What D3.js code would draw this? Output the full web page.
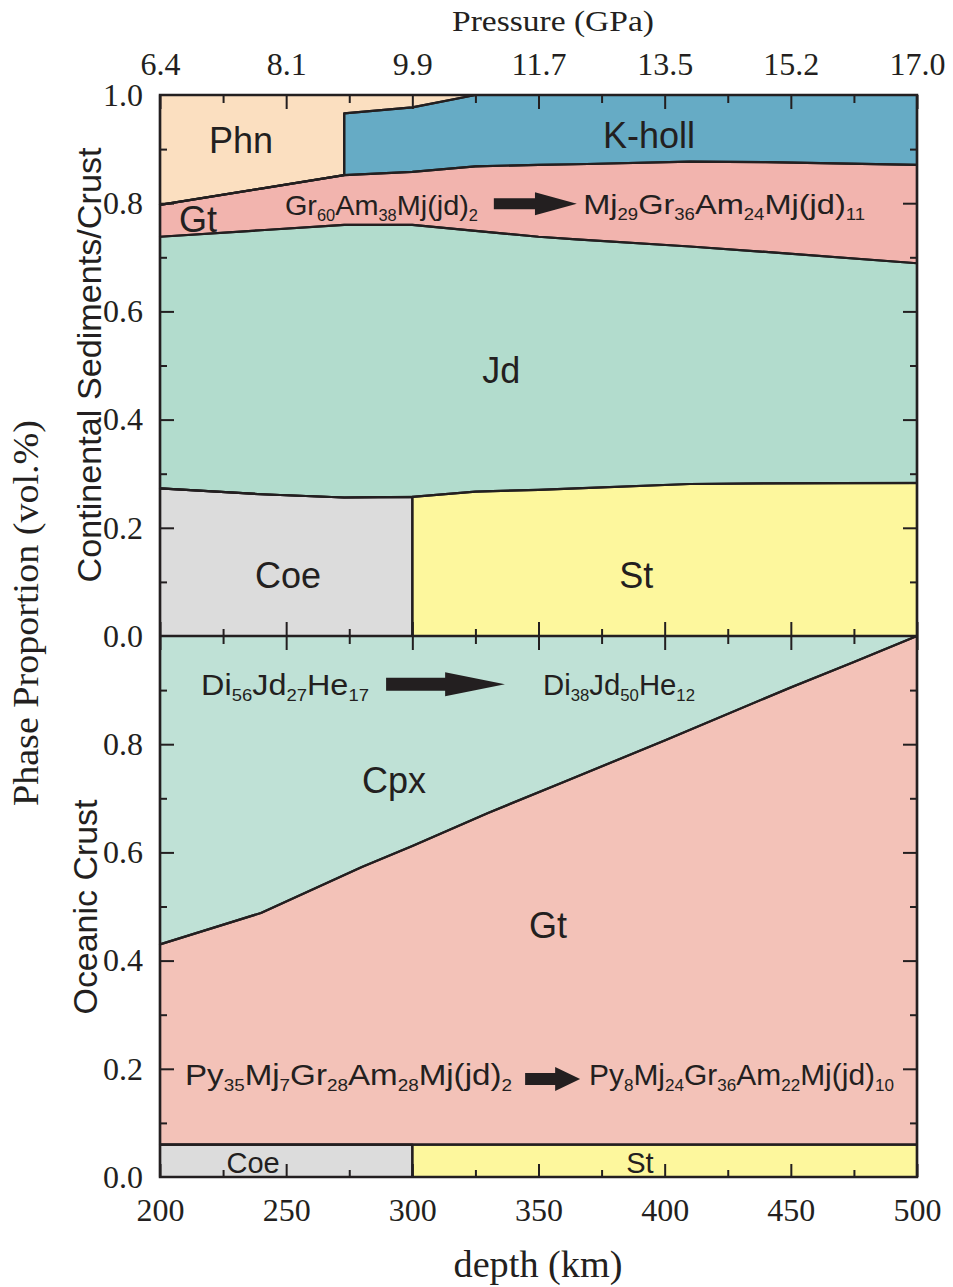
<!DOCTYPE html>
<html><head><meta charset="utf-8">
<script src="https://cdn.jsdelivr.net/npm/d3@7"></script>
<style>
html,body{margin:0;padding:0;background:#fff;}
svg{display:block;}
</style></head>
<body>
<svg id="chart" width="953" height="1287"></svg>
<script>
// ---- Continental sediments / crust panel (vol. fraction of each phase) ----
// repeated depths mark abrupt phase changes (K-holl appearance, Coe -> St)
const depthCont = [200, 240, 273, 273, 300, 300, 325, 350, 365, 410, 440, 500];
const coeCont   = [0.273, 0.262, 0.256, 0.256, 0.257, 0, 0, 0, 0, 0, 0, 0];
const stCont    = [0, 0, 0, 0, 0, 0.257, 0.267, 0.270, 0.273, 0.281, 0.282, 0.283];
const jdCont    = [0.465, 0.488, 0.504, 0.504, 0.503, 0.503, 0.482, 0.468, 0.460, 0.439, 0.428, 0.406];
const gtCont    = [0.059, 0.077, 0.092, 0.092, 0.098, 0.098, 0.119, 0.133, 0.139, 0.157, 0.166, 0.182];
const khollCont = [0, 0, 0, 0.114, 0.119, 0.119, 0.132, 0.129, 0.128, 0.123, 0.124, 0.129];
const phnCont   = [0.203, 0.173, 0.148, 0.034, 0.023, 0.023, 0, 0, 0, 0, 0, 0];

// ---- Oceanic crust panel ----
const depthOcean = [200, 240, 280, 300, 300, 330, 360, 400, 450, 475, 500];
const coeOcean   = [0.06, 0.06, 0.06, 0.06, 0, 0, 0, 0, 0, 0, 0];
const stOcean    = [0, 0, 0, 0, 0.06, 0.06, 0.06, 0.06, 0.06, 0.06, 0.06];
const gtOcean    = [0.370, 0.428, 0.513, 0.552, 0.552, 0.613, 0.670, 0.747, 0.845, 0.892, 0.940];
const cpxOcean   = [0.570, 0.512, 0.427, 0.388, 0.388, 0.327, 0.270, 0.193, 0.095, 0.048, 0];

// ---- axis ticks ----
const depthTicks = [200, 250, 300, 350, 400, 450, 500];
const pressureLabels = ["6.4", "8.1", "9.9", "11.7", "13.5", "15.2", "17.0"];
const contTickLabels = [0, 0.2, 0.4, 0.6, 0.8, 1.0];
const oceanTickLabels = [0, 0.2, 0.4, 0.6, 0.8];

const phaseColor = {
  Coe: "#dcdcdc", St: "#fdf79d", Jd: "#b2dccd", Gt: "#f2b4ae",
  Kholl: "#66abc5", Phn: "#fbdfc0", GtO: "#f3c2b8", Cpx: "#bfe1d6"
};

const svg = d3.select("#chart");
const L = 160, R = 917, T = 95, M = 636, B = 1177;
const x = d3.scaleLinear().domain([200, 500]).range([L, R]);
const yC = d3.scaleLinear().domain([0, 1]).range([M, T]);
const yO = d3.scaleLinear().domain([0, 1]).range([B, M]);

const ink = "#231f20";
const serif = "'Liberation Serif','Times New Roman',serif";
const sans = "'Liberation Sans',Arial,sans-serif";

function drawPanel(depths, series, keys, colorKeys, y) {
  const rows = depths.map((d, i) => {
    const r = { depth: d };
    keys.forEach((k, j) => r[k] = series[j][i]);
    return r;
  });
  const stacked = d3.stack().keys(keys)(rows);
  const area = d3.area()
    .x(d => x(d.data.depth))
    .y0(d => y(d[0]))
    .y1(d => y(d[1]));
  const g = svg.append("g");
  g.selectAll("path.fill").data(stacked).join("path")
    .attr("class", "fill")
    .attr("d", area)
    .attr("fill", (d, i) => phaseColor[colorKeys[i]])
    .attr("stroke", (d, i) => phaseColor[colorKeys[i]])
    .attr("stroke-width", 0.6);
  g.selectAll("path.edge").data(stacked).join("path")
    .attr("class", "edge")
    .attr("d", area)
    .attr("fill", "none")
    .attr("stroke", ink)
    .attr("stroke-width", 2.2)
    .attr("stroke-linejoin", "round");
}

drawPanel(depthCont,
  [coeCont, stCont, jdCont, gtCont, khollCont, phnCont],
  ["Coe", "St", "Jd", "Gt", "Kholl", "Phn"],
  ["Coe", "St", "Jd", "Gt", "Kholl", "Phn"], yC);

drawPanel(depthOcean,
  [coeOcean, stOcean, gtOcean, cpxOcean],
  ["Coe", "St", "Gt", "Cpx"],
  ["Coe", "St", "GtO", "Cpx"], yO);

// ---- inward ticks ----
const xMajor = d3.range(200, 501, 50);
const xMinor = d3.range(225, 500, 50);
const yMajor = [0.2, 0.4, 0.6, 0.8];
const yMinor = [0.1, 0.3, 0.5, 0.7, 0.9];

function ticks(axis, tx, ty) {
  svg.append("g").attr("transform", `translate(${tx},${ty})`)
    .call(axis.tickFormat(""))
    .call(g => g.select(".domain").remove())
    .call(g => g.selectAll("line").attr("stroke", ink).attr("stroke-width", 2));
}
// top edge
ticks(d3.axisBottom(x).tickValues(xMajor).tickSize(14), 0, T);
ticks(d3.axisBottom(x).tickValues(xMinor).tickSize(8), 0, T);
// panel divider: up into continental panel, down into oceanic panel
ticks(d3.axisTop(x).tickValues(xMajor).tickSize(14), 0, M);
ticks(d3.axisTop(x).tickValues(xMinor).tickSize(7), 0, M);
ticks(d3.axisBottom(x).tickValues(xMajor).tickSize(14), 0, M);
ticks(d3.axisBottom(x).tickValues(xMinor).tickSize(8), 0, M);
// bottom edge
ticks(d3.axisTop(x).tickValues(xMajor).tickSize(13), 0, B);
ticks(d3.axisTop(x).tickValues(xMinor).tickSize(7), 0, B);
// left and right edges of both panels
[yC, yO].forEach(y => {
  ticks(d3.axisRight(y).tickValues(yMajor).tickSize(14), L, 0);
  ticks(d3.axisRight(y).tickValues(yMinor).tickSize(7), L, 0);
  ticks(d3.axisLeft(y).tickValues(yMajor).tickSize(14), R, 0);
  ticks(d3.axisLeft(y).tickValues(yMinor).tickSize(7), R, 0);
});

// ---- frame ----
svg.append("rect").attr("x", L).attr("y", T).attr("width", R - L).attr("height", B - T)
  .attr("fill", "none").attr("stroke", ink).attr("stroke-width", 2.5);
svg.append("line").attr("x1", L).attr("x2", R).attr("y1", M).attr("y2", M)
  .attr("stroke", ink).attr("stroke-width", 2.5);

// ---- tick labels ----
function labels(axis, tx, ty) {
  svg.append("g").attr("transform", `translate(${tx},${ty})`)
    .call(axis.tickSize(0))
    .call(g => g.select(".domain").remove())
    .call(g => g.selectAll("text").attr("font-family", serif).attr("font-size", 32).attr("fill", ink));
}
labels(d3.axisTop(x).tickValues(depthTicks).tickFormat((d, i) => pressureLabels[i]).tickPadding(20), 0, T);
labels(d3.axisBottom(x).tickValues(depthTicks).tickFormat(d3.format("d")).tickPadding(21), 0, B);
labels(d3.axisLeft(yC).tickValues(contTickLabels).tickFormat(d3.format(".1f")).tickPadding(17), L, 0);
labels(d3.axisLeft(yO).tickValues(oceanTickLabels).tickFormat(d3.format(".1f")).tickPadding(17), L, 0);

// ---- axis titles ----
svg.append("text").attr("x", 553).attr("y", 31).attr("text-anchor", "middle")
  .attr("font-family", serif).attr("font-size", 30).attr("fill", ink)
  .attr("textLength", 202).attr("lengthAdjust", "spacingAndGlyphs")
  .text("Pressure (GPa)");
svg.append("text").attr("x", 538).attr("y", 1277).attr("text-anchor", "middle")
  .attr("font-family", serif).attr("font-size", 37).attr("fill", ink)
  .attr("textLength", 169).attr("lengthAdjust", "spacingAndGlyphs")
  .text("depth (km)");

function vTitle(text, cx, cy, size, font, len) {
  svg.append("text").attr("transform", `translate(${cx},${cy}) rotate(-90)`)
    .attr("text-anchor", "middle").attr("font-family", font).attr("font-size", size)
    .attr("fill", ink).attr("textLength", len).attr("lengthAdjust", "spacingAndGlyphs")
    .text(text);
}
vTitle("Phase Proportion (vol.%)", 38, 613, 36, serif, 386);
vTitle("Continental Sediments/Crust", 101, 365, 33, sans, 435);
vTitle("Oceanic Crust", 97, 907, 33, sans, 215);

// ---- phase names ----
const contNames = [
  ["Phn", 232.1, 0.893], ["K-holl", 393.8, 0.902], ["Gt", 215.1, 0.747],
  ["Jd", 335.2, 0.468], ["Coe", 250.7, 0.0887], ["St", 388.7, 0.0887]
];
const oceanNames = [
  ["Cpx", 292.7, 0.710], ["Gt", 353.8, 0.442]
];
const oceanStripNames = [["Coe", 236.9, 0.0074], ["St", 390.2, 0.0074]];

function names(list, y, size) {
  svg.append("g").selectAll("text").data(list).join("text")
    .attr("x", d => x(d[1])).attr("y", d => y(d[2]))
    .attr("text-anchor", "middle").attr("font-family", sans).attr("font-size", size)
    .attr("fill", ink).text(d => d[0]);
}
names(contNames, yC, 36);
names(oceanNames, yO, 36);
names(oceanStripNames, yO, 29);

// ---- mineral formulae with subscripts ----
const formulae = [
  { parts: [["Gr"], ["60", 1], ["Am"], ["38", 1], ["Mj(jd)"], ["2", 1]], from: 249.5, to: 326.0, v: 0.778, y: yC, size: 28 },
  { parts: [["Mj"], ["29", 1], ["Gr"], ["36", 1], ["Am"], ["24", 1], ["Mj(jd)"], ["11", 1]], from: 367.7, to: 479.4, v: 0.780, y: yC, size: 28 },
  { parts: [["Di"], ["56", 1], ["Jd"], ["27", 1], ["He"], ["17", 1]], from: 216.3, to: 282.8, v: 0.891, y: yO, size: 30 },
  { parts: [["Di"], ["38", 1], ["Jd"], ["50", 1], ["He"], ["12", 1]], from: 351.8, to: 412.0, v: 0.891, y: yO, size: 30 },
  { parts: [["Py"], ["35", 1], ["Mj"], ["7", 1], ["Gr"], ["28", 1], ["Am"], ["28", 1], ["Mj(jd)"], ["2", 1]], from: 209.9, to: 339.5, v: 0.170, y: yO, size: 30 },
  { parts: [["Py"], ["8", 1], ["Mj"], ["24", 1], ["Gr"], ["36", 1], ["Am"], ["22", 1], ["Mj(jd)"], ["10", 1]], from: 370.0, to: 490.9, v: 0.170, y: yO, size: 30 }
];
formulae.forEach(f => {
  const x0 = x(f.from), x1 = x(f.to);
  const t = svg.append("text").attr("x", x0).attr("y", f.y(f.v))
    .attr("font-family", sans).attr("font-size", f.size).attr("fill", ink)
    .attr("textLength", x1 - x0).attr("lengthAdjust", "spacingAndGlyphs");
  const shift = f.size * 0.2;
  let down = false;
  f.parts.forEach(([s, sub]) => {
    const ts = t.append("tspan").text(s);
    if (sub) {
      ts.attr("font-size", f.size * 0.57);
      if (!down) { ts.attr("dy", shift); down = true; }
    } else if (down) {
      ts.attr("dy", -shift); down = false;
    }
  });
});

// ---- composition-change arrows ----
const arrows = [
  { from: 332.3, head: 348.6, to: 365.2, v: 0.799, y: yC, shaft: 5.5, hw: 11.5 },
  { from: 289.6, head: 313.0, to: 336.7, v: 0.911, y: yO, shaft: 6.5, hw: 12 },
  { from: 344.7, head: 356.6, to: 366.5, v: 0.181, y: yO, shaft: 6, hw: 12 }
];
svg.append("g").selectAll("path").data(arrows).join("path")
  .attr("d", a => {
    const x0 = x(a.from), xh = x(a.head), x1 = x(a.to), yc = a.y(a.v);
    return `M${x0},${yc - a.shaft}L${xh},${yc - a.shaft}L${xh},${yc - a.hw}L${x1},${yc}` +
      `L${xh},${yc + a.hw}L${xh},${yc + a.shaft}L${x0},${yc + a.shaft}Z`;
  })
  .attr("fill", ink);
</script>
</body></html>
